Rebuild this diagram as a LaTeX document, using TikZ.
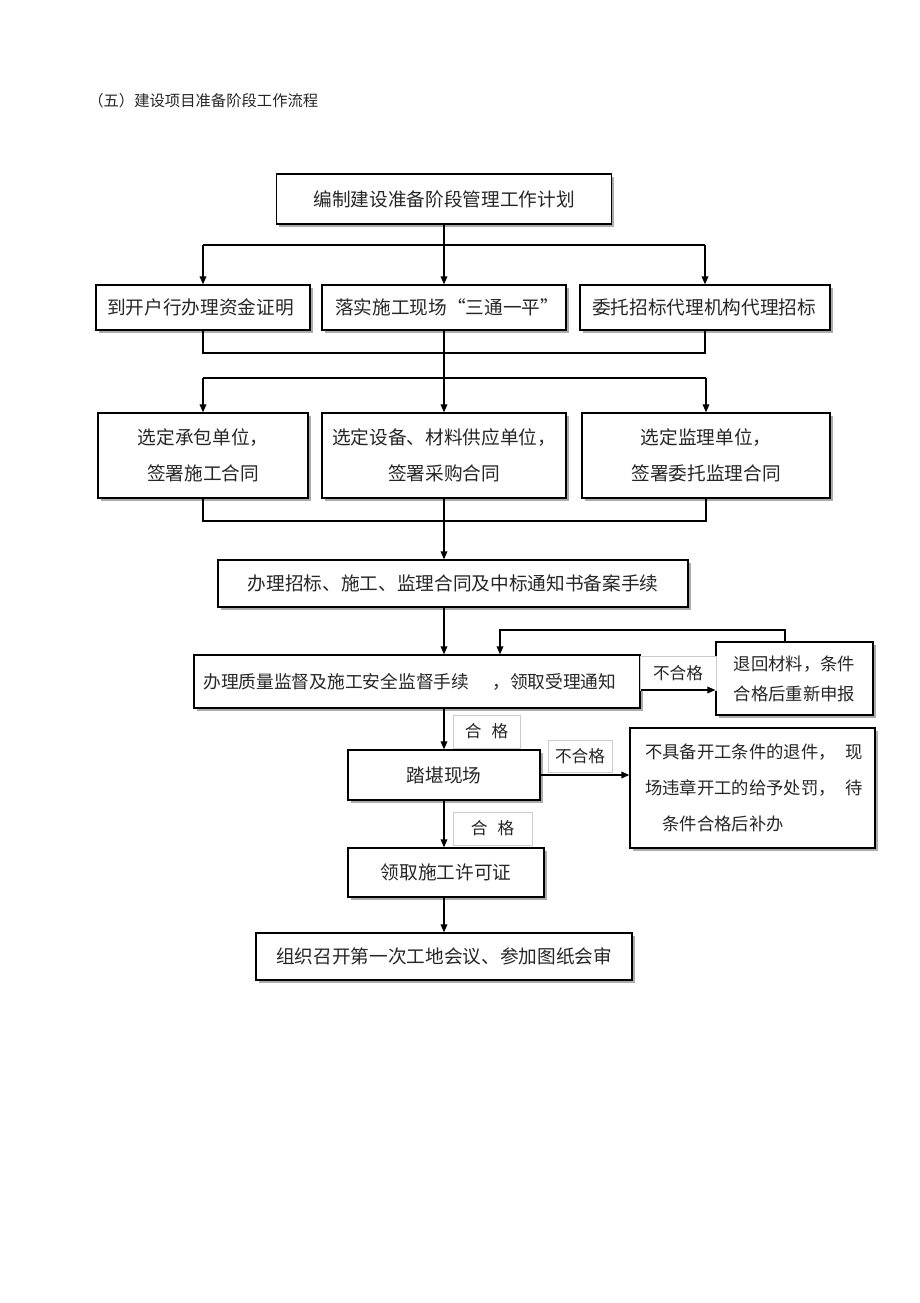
\documentclass[tikz,border=0pt]{standalone}
\usepackage{fontspec}
\setmainfont{Noto Sans CJK SC}
\usetikzlibrary{arrows.meta,shadows}
\begin{document}
\begin{tikzpicture}[x=0.75pt,y=-0.75pt,
  box/.style={draw, line width=1pt, fill=white,
    drop shadow={shadow xshift=2.2pt, shadow yshift=-2.2pt, fill=gray!65, opacity=1},
    inner sep=0pt, align=center, text=black!85, font=\fontsize{14}{27}\selectfont},
  txt/.style={inner sep=0pt, text=black!85, font=\fontsize{14}{27}\selectfont},
  lbl/.style={draw=gray!40, line width=0.5pt, fill=white, inner sep=0pt, text=black!85,
    font=\fontsize{12.5}{15}\selectfont},
  ln/.style={line width=1pt},
  arr/.style={line width=1pt, -{Triangle[length=6pt,width=5pt]}}]
\fill[white] (0,0) rectangle (920,1303);
\useasboundingbox (0,0) rectangle (920,1303);

\node[txt, anchor=west, font=\fontsize{11.5}{14}\selectfont] (title) at (88,101) {（五）建设项目准备阶段工作流程};

% boxes
\node[box, minimum width=251.25pt, minimum height=37.5pt] (top) at (444,199) {编制建设准备阶段管理工作计划};
\node[box, minimum width=160.5pt, minimum height=33.75pt] (A) at (203,307.5) {};
\node[box, minimum width=183pt, minimum height=33.75pt] (B) at (444,307.5) {};
\node[box, minimum width=187.5pt, minimum height=33.75pt] (C) at (705,307.5) {};
\node[txt, anchor=west] (At) at (107,307.5) {到开户行办理资金证明};
\node[txt, anchor=west] (Bt) at (335,307.5) {落实施工现场“三通一平”};
\node[txt, anchor=west] (Ct) at (592,307.5) {委托招标代理机构代理招标};

\node[box, minimum width=157.5pt, minimum height=63.75pt] (D) at (203,455.5) {选定承包单位，\\签署施工合同};
\node[box, minimum width=183pt, minimum height=63.75pt] (E) at (444,455.5) {选定设备、材料供应单位，\\签署采购合同};
\node[box, minimum width=186pt, minimum height=63.75pt] (F) at (706,455.5) {选定监理单位，\\签署委托监理合同};

\node[box, minimum width=352.5pt, minimum height=35.25pt] (G) at (453,583.5) {办理招标、施工、监理合同及中标通知书备案手续};
\node[box, minimum width=334.5pt, minimum height=39.75pt] (H) at (417,681.5) {};
\node[txt, anchor=west, font=\fontsize{13.3}{20}\selectfont] (Ht) at (203,681.5) {办理质量监督及施工安全监督手续\hspace{1.3em}，领取受理通知};
\node[box, minimum width=117.75pt, minimum height=54.75pt, font=\fontsize{13}{22.5}\selectfont] (I) at (794.5,678.5) {退回材料，条件\\合格后重新申报};
\node[box, minimum width=144pt, minimum height=37.5pt] (J) at (444,775) {踏堪现场};
\node[box, minimum width=183.75pt, minimum height=90pt] (K) at (752.5,788) {};
\node[txt, anchor=west, text width=163pt, align=left, font=\fontsize{13}{27}\selectfont] (Kt) at (645,788)
  {不具备开工条件的退件，\hfill 现\\场违章开工的给予处罚，\hfill 待\\\hspace*{13pt}条件合格后补办};
\node[box, minimum width=147pt, minimum height=36.75pt] (L) at (446,872.5) {领取施工许可证};
\node[box, minimum width=282pt, minimum height=35.25pt] (M) at (444,956.5) {组织召开第一次工地会议、参加图纸会审};

% labels
\node[lbl, minimum width=57pt, minimum height=25.5pt] (n1) at (678,673) {不合格};
\node[lbl, minimum width=50.25pt, minimum height=24.75pt] (p1) at (486.5,731.5) {合\hspace{0.6em}格};
\node[lbl, minimum width=48pt, minimum height=24pt] (n2) at (580,756) {不合格};
\node[lbl, minimum width=59.25pt, minimum height=24.75pt] (p2) at (492.5,828.5) {合\hspace{0.6em}格};

% connectors
\coordinate (s1) at (444,245);
\draw[ln] (top.south) -- (s1);
\draw[ln] (A.north |- s1) -- (C.north |- s1);
\draw[arr] (A.north |- s1) -- (A.north);
\draw[arr] (s1) -- (top.south |- B.north);
\draw[arr] (C.north |- s1) -- (C.north);

\coordinate (m1) at (444,353);
\coordinate (s2) at (444,378);
\draw[ln] (A.south) -- (A.south |- m1) -- (C.south |- m1) -- (C.south);
\draw[ln] (B.south) -- (s2);
\draw[ln] (D.north |- s2) -- (F.north |- s2);
\draw[arr] (D.north |- s2) -- (D.north);
\draw[arr] (s2) -- (E.north);
\draw[arr] (F.north |- s2) -- (F.north);

\coordinate (m2) at (444,521);
\draw[ln] (D.south) -- (D.south |- m2) -- (F.south |- m2) -- (F.south);
\draw[arr] (E.south) -- (E.south |- G.north);
\draw[arr] (E.south |- G.south) -- (E.south |- H.north);
\draw[arr] (E.south |- H.south) -- (J.north);
\draw[arr] (J.south) -- (J.south |- L.north);
\draw[arr] (J.south |- L.south) -- (M.north);

\coordinate (hi) at (640,690);
\draw[arr] (H.east |- hi) -- (I.west |- hi);
\coordinate (fb) at (785,630);
\coordinate (fb2) at (500,630);
\draw[arr] (I.north -| fb) -- (fb) -- (fb2) -- (fb2 |- H.north);
\draw[arr] (J.east) -- (K.west |- J.east);
\end{tikzpicture}
\end{document}
